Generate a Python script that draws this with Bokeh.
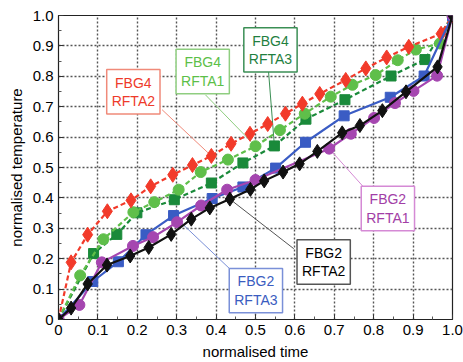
from bokeh.plotting import figure
from bokeh.models import Label, FixedTicker, Range1d
from bokeh.embed import file_html
from bokeh.resources import INLINE

# ---- data ----
t_fbg4_rfta2 = [0, 0.032, 0.074, 0.124, 0.184, 0.234, 0.29, 0.34, 0.388, 0.438, 0.486, 0.531,
                0.576, 0.619, 0.663, 0.729, 0.780, 0.833, 0.889, 0.971, 1.0]
v_fbg4_rfta2 = [0, 0.188, 0.279, 0.356, 0.392, 0.438, 0.476, 0.508, 0.538, 0.578, 0.611, 0.643,
                0.677, 0.710, 0.742, 0.788, 0.826, 0.862, 0.897, 0.940, 1.0]

t_fbg4_rfta1 = [0, 0.055, 0.114, 0.19, 0.243, 0.305, 0.361, 0.43, 0.5, 0.562, 0.625, 0.691,
                0.746, 0.805, 0.861, 0.907, 0.968, 1.0]
v_fbg4_rfta1 = [0, 0.145, 0.264, 0.353, 0.386, 0.427, 0.485, 0.526, 0.570, 0.623, 0.677, 0.733,
                0.772, 0.804, 0.853, 0.888, 0.908, 1.0]

t_fbg4_rfta3 = [0, 0.089, 0.148, 0.199, 0.294, 0.388, 0.468, 0.548, 0.628, 0.727, 0.844, 0.930, 1.0]
v_fbg4_rfta3 = [0, 0.217, 0.28, 0.351, 0.394, 0.449, 0.515, 0.571, 0.659, 0.723, 0.801, 0.855, 1.0]

t_fbg2_rfta3 = [0, 0.087, 0.152, 0.222, 0.292, 0.39, 0.468, 0.551, 0.627, 0.725, 0.842, 0.928, 1.0]
v_fbg2_rfta3 = [0, 0.125, 0.19, 0.279, 0.342, 0.398, 0.436, 0.498, 0.583, 0.670, 0.731, 0.801, 1.0]

t_fbg2_rfta1 = [0, 0.053, 0.11, 0.189, 0.24, 0.301, 0.362, 0.428, 0.5, 0.687, 0.742, 0.801,
                0.854, 0.901, 0.961, 1.0]
v_fbg2_rfta1 = [0, 0.048, 0.188, 0.242, 0.271, 0.32, 0.375, 0.427, 0.459, 0.562, 0.611, 0.663,
                0.712, 0.752, 0.802, 1.0]

t_fbg2_rfta2 = [0, 0.032, 0.074, 0.123, 0.182, 0.229, 0.286, 0.337, 0.384, 0.435, 0.487, 0.522,
                0.570, 0.612, 0.657, 0.720, 0.765, 0.822, 0.882, 0.962, 1.0]
v_fbg2_rfta2 = [0, 0.0375, 0.117, 0.179, 0.209, 0.237, 0.28, 0.33, 0.367, 0.396, 0.428, 0.456,
                0.485, 0.512, 0.553, 0.614, 0.638, 0.687, 0.749, 0.831, 1.0]

tick_values = [0, 0.1, 0.2, 0.3, 0.4, 0.5, 0.6, 0.7, 0.8, 0.9, 1.0]
minor_values = [0.05, 0.15, 0.25, 0.35, 0.45, 0.55, 0.65, 0.75, 0.85, 0.95]
tick_labels = {0: "0", 1: "1.0"}

# callout labels: text, box centre (x, y), leader end at box, leader target
callout_text = ["FBG4\nRFTA2", "FBG4\nRFTA1", "FBG4\nRFTA3", "FBG2\nRFTA1", "FBG2\nRFTA2", "FBG2\nRFTA3"]
callout_x = [0.19, 0.366, 0.538, 0.836, 0.673, 0.501]
callout_y = [0.749, 0.816, 0.887, 0.365, 0.189, 0.095]
leader_x0 = [0.263, 0.373, 0.533, 0.772, 0.597, 0.436]
leader_y0 = [0.69, 0.739, 0.817, 0.439, 0.233, 0.165]
leader_x1 = [0.388, 0.5, 0.548, 0.687, 0.435, 0.292]
leader_y1 = [0.538, 0.570, 0.571, 0.562, 0.396, 0.342]
callout_text_color = ["#ee3a2a", "#5cbf48", "#1f7f3f", "#a23ea6", "#000000", "#3a5cc0"]
callout_border_color = ["#f08a7a", "#8fce80", "#3b8f55", "#d58ad5", "#555555", "#7a90d8"]

FONT = "Liberation Sans"

p = figure(width=463, height=362, output_backend="svg", toolbar_location=None,
           x_range=Range1d(0, 1), y_range=Range1d(0, 1),
           min_border_left=58, min_border_right=11, min_border_top=15, min_border_bottom=40)
p.outline_line_color = "#222222"
p.outline_line_width = 1.2
p.background_fill_color = "white"
p.border_fill_color = "white"

for ax in (p.xaxis[0], p.yaxis[0]):
    ax.ticker = FixedTicker(ticks=tick_values, minor_ticks=minor_values)
    ax.major_label_overrides = tick_labels
    ax.major_label_text_font = FONT
    ax.major_label_text_font_size = "15px"
    ax.major_label_text_color = "black"
    ax.axis_label_text_font = FONT
    ax.axis_label_text_font_size = "15px"
    ax.axis_label_text_font_style = "normal"
    ax.axis_label_text_color = "black"
    ax.major_tick_in = 5
    ax.major_tick_out = 0
    ax.minor_tick_in = 3
    ax.minor_tick_out = 0
    ax.major_tick_line_color = "#333333"
    ax.minor_tick_line_color = "#555555"
    ax.axis_line_color = "#222222"
    ax.major_label_standoff = 5

p.xaxis.axis_label = "normalised time"
p.yaxis.axis_label = "normalised temperature"
p.xaxis.axis_label_standoff = 5
p.yaxis.axis_label_standoff = 5

for g in (p.xgrid[0], p.ygrid[0]):
    g.ticker = FixedTicker(ticks=tick_values)
    g.grid_line_color = "#555555"
    g.grid_line_dash = "2 2"
    g.grid_line_width = 1.4

# leader lines
for i in range(len(callout_text)):
    p.line([leader_x0[i], leader_x1[i]], [leader_y0[i], leader_y1[i]],
           line_color=callout_border_color[i], line_width=1)

# series
RED, LGREEN, DGREEN = "#f23a2a", "#5fbf4a", "#1a8a3a"
BLUE, PURPLE, BLACK = "#3a5cc4", "#a546b0", "#111111"

p.line(t_fbg4_rfta3, v_fbg4_rfta3, line_color=DGREEN, line_width=2.2, line_dash="5 3")
p.scatter(t_fbg4_rfta3, v_fbg4_rfta3, marker="square", size=10, fill_color=DGREEN, line_color=DGREEN)

p.line(t_fbg4_rfta1, v_fbg4_rfta1, line_color=LGREEN, line_width=2.2, line_dash="5 3")
p.scatter(t_fbg4_rfta1, v_fbg4_rfta1, marker="circle", size=11, fill_color=LGREEN, line_color=LGREEN)

p.line(t_fbg4_rfta2, v_fbg4_rfta2, line_color=RED, line_width=2.2, line_dash="5 3")
p.scatter(t_fbg4_rfta2, v_fbg4_rfta2, marker="diamond", size=15, fill_color=RED, line_color=RED)

p.line(t_fbg2_rfta3, v_fbg2_rfta3, line_color=BLUE, line_width=2.2)
p.scatter(t_fbg2_rfta3, v_fbg2_rfta3, marker="square", size=10, fill_color=BLUE, line_color=BLUE)

p.line(t_fbg2_rfta1, v_fbg2_rfta1, line_color=PURPLE, line_width=2.2)
p.scatter(t_fbg2_rfta1, v_fbg2_rfta1, marker="circle", size=11, fill_color=PURPLE, line_color=PURPLE)

p.line(t_fbg2_rfta2, v_fbg2_rfta2, line_color=BLACK, line_width=2.2)
p.scatter(t_fbg2_rfta2, v_fbg2_rfta2, marker="diamond", size=14, fill_color=BLACK, line_color=BLACK)

# callout boxes
for i in range(len(callout_text)):
    p.add_layout(Label(x=callout_x[i], y=callout_y[i], text=callout_text[i],
                       text_align="center", text_baseline="middle",
                       text_font=FONT, text_font_size="14px",
                       text_color=callout_text_color[i], text_line_height=1.15,
                       border_line_color=callout_border_color[i], border_line_width=1.5,
                       background_fill_color="white", background_fill_alpha=1.0,
                       padding=5))

open("out.html", "w").write(file_html(p, INLINE))
